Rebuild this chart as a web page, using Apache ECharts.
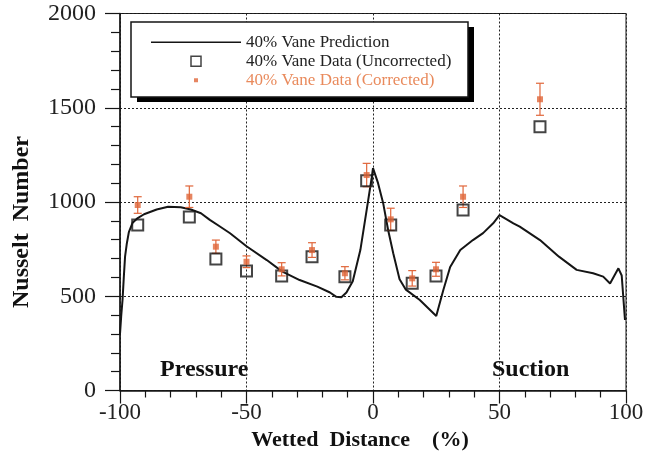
<!DOCTYPE html>
<html><head><meta charset="utf-8">
<script src="https://cdn.jsdelivr.net/npm/echarts@6/dist/echarts.min.js"></script>
<style>html,body{margin:0;padding:0;background:#fff}#c{width:652px;height:455px}</style>
</head><body><div id="c"></div>
<script>
// Prediction curve
const predX = [-100,-99.5,-99,-98.5,-98,-97.3,-96.5,-95,-93,-90.5,-85.5,-81,-76,-72,-68,-64.5,-60.5,-56.5,-50,-42,-36,-29,-22,-17,-14.5,-12.5,-10.5,-8,-5,-2.5,-0.5,0,2,4,6,8,10.5,13,18.5,25,27.8,30.5,34.5,39.5,43.5,47.5,50,55.5,58,66,73.5,80.5,87,91,93.7,97,98.3,99.6];
const predY = [300,400,480,600,710,780,840,890,915,935,960,975,972,960,940,905,870,834,765,692,632,586,551,520,497,495,520,580,745,958,1130,1180,1100,995,850,728,590,535,480,395,533,655,745,798,835,887,930,887,869,798,710,640,622,604,568,648,610,374];
// Measured data
const dataX = [-93,-72.6,-62.1,-50,-36.1,-24.1,-11.1,-2.5,7,15.5,24.9,35.6,66];
const uncorrY = [878,920,698,634,607,710,604,1113,878,569,607,958,1399];
const corrY = [984,1028,763,683,643,745,622,1143,908,595,643,1028,1545];
const corrErr = [44,57,35,31,35,39,35,62,59,41,37,57,85];
const seriesNames = ['40% Vane Prediction','40% Vane Data (Uncorrected)','40% Vane Data (Corrected)'];

const ORANGE = '#e0663a';
const ORANGE_TXT = '#e98a5c';
const INK = '#151515';
const SERIF = '"Liberation Serif","Times New Roman",serif';

const chart = echarts.init(document.getElementById('c'), null, {renderer:'canvas'});
chart.setOption({
  animation:false,
  backgroundColor:'#fff',
  grid:{left:120, right:26, top:13.5, bottom:64.5, containLabel:false, outerBoundsMode:'none',
        show:true, borderColor:INK, borderWidth:1, backgroundColor:'transparent'},
  xAxis:{
    type:'value', min:-100, max:100, interval:50,
    axisLine:{onZero:false, lineStyle:{color:INK, width:1.5}},
    axisTick:{show:true, length:13, lineStyle:{color:INK, width:1.2}},
    minorTick:{show:true, splitNumber:5, length:7, lineStyle:{color:INK, width:1.2}},
    splitLine:{show:true, lineStyle:{color:'#222', type:[2,2], width:1}},
    axisLabel:{fontFamily:SERIF, fontSize:23, color:'#222', margin:11, formatter:v=>String(v)},
    name:'Wetted  Distance    (%)', nameLocation:'middle', nameGap:38,
    nameTextStyle:{fontFamily:SERIF, fontSize:22, fontWeight:'bold', color:'#111', padding:[0,26,0,0]}
  },
  yAxis:{
    type:'value', min:0, max:2000, interval:500,
    axisLine:{show:true, onZero:false, lineStyle:{color:INK, width:1.5}},
    axisTick:{show:true, length:15, lineStyle:{color:INK, width:1.2}},
    minorTick:{show:true, splitNumber:5, length:9, lineStyle:{color:INK, width:1.2}},
    splitLine:{show:true, lineStyle:{color:'#222', type:[2,2], width:1}},
    axisLabel:{fontFamily:SERIF, fontSize:24, color:'#222', margin:24, formatter:v=>String(v)},
    name:'Nusselt  Number', nameLocation:'middle', nameGap:86,
    nameTextStyle:{fontFamily:SERIF, fontSize:24, fontWeight:'bold', color:'#111', padding:[0,40,0,0]}
  },
  legend:{
    orient:'vertical', left:131, top:22, z:5,
    padding:[11,16,8,20], itemGap:0.5, itemWidth:90, itemHeight:10,
    textStyle:{fontFamily:SERIF, fontSize:17, color:'#222', lineHeight:18.5},
    selectedMode:false,
    data:[
      {name:seriesNames[0], icon:'path://M0,0H60V1H0Z', itemStyle:{color:INK, borderWidth:0}},
      {name:seriesNames[1], icon:'path://M0,0H10V10H0Z', itemStyle:{color:'#fff', borderColor:INK, borderWidth:1.5}},
      {name:seriesNames[2], icon:'path://M0,0M10,10M3,3H7V7H3Z', itemStyle:{color:ORANGE, borderWidth:0}, textStyle:{color:ORANGE_TXT}}
    ]
  },
  graphic:[
    {type:'rect', z:3, shape:{x:137, y:27, width:337, height:75}, style:{fill:'#000'}},
    {type:'rect', z:3, shape:{x:131, y:22, width:337, height:75}, style:{fill:'#fff', stroke:INK, lineWidth:1.5}},
    {type:'text', left:160, top:358, style:{text:'Pressure', font:'bold 24px '+SERIF, fill:'#111'}},
    {type:'text', left:492, top:358, style:{text:'Suction', font:'bold 24px '+SERIF, fill:'#111'}}
  ],
  series:[
    {name:seriesNames[0], type:'line', symbol:'none', smooth:false,
     data:predX.map((x,i)=>[x,predY[i]]),
     lineStyle:{color:INK, width:2}, itemStyle:{color:INK}, z:3},
    {name:'err', type:'custom',
     data:dataX.map((x,i)=>[x,corrY[i],corrErr[i]]),
     renderItem:function(params, api){
       const x=api.value(0), y=api.value(1), e=api.value(2);
       const t=api.coord([x,y+e]), b=api.coord([x,y-e]);
       const w=4, st={stroke:ORANGE, lineWidth:1.2};
       return {type:'group', children:[
         {type:'line', shape:{x1:t[0],y1:t[1],x2:b[0],y2:b[1]}, style:st},
         {type:'line', shape:{x1:t[0]-w,y1:t[1],x2:t[0]+w,y2:t[1]}, style:st},
         {type:'line', shape:{x1:b[0]-w,y1:b[1],x2:b[0]+w,y2:b[1]}, style:st}
       ]};
     }, z:4},
    {name:seriesNames[1], type:'scatter', symbol:'rect', symbolSize:11,
     data:dataX.map((x,i)=>[x,uncorrY[i]]),
     itemStyle:{color:'rgba(255,255,255,0)', borderColor:INK, borderWidth:2}, z:5},
    {name:seriesNames[2], type:'scatter', symbol:'rect', symbolSize:6,
     data:dataX.map((x,i)=>[x,corrY[i]]),
     itemStyle:{color:ORANGE}, z:6}
  ]
});
</script></body></html>
